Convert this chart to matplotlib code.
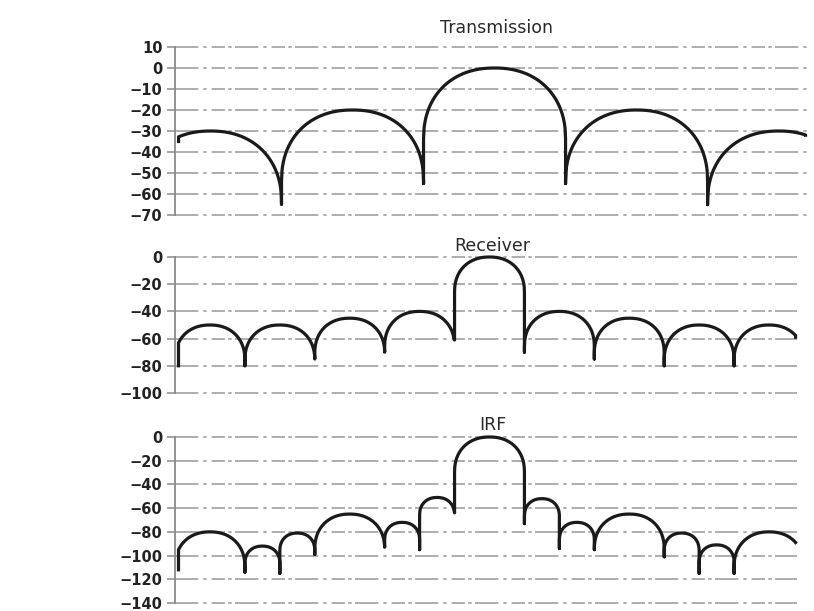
import numpy as np
import matplotlib.pyplot as plt

plt.rcParams['font.family'] = ['DejaVu Sans']

FIG_W, FIG_H = 814, 611

# Each panel is a chain of lobes: null positions, the level at each null
# (including the two curve ends) and the peak level of each lobe.
tx_nulls = [-4.45, -3.0, -1.0, 1.0, 3.0, 4.38]
tx_null_db = [-35, -65, -55, -55, -65, -32]
tx_peak_db = [-30, -20, 0, -20, -30]
tx_lobe_edges = [-5.0, -3.0, -1.0, 1.0, 3.0, 5.0]
tx_ticks = [10, 0, -10, -20, -30, -40, -50, -60, -70]

rx_nulls = [-4.45, -3.5, -2.5, -1.5, -0.5, 0.5, 1.5, 2.5, 3.5, 4.38]
rx_null_db = [-80, -80, -75, -70, -61, -70, -75, -80, -80, -59]
rx_peak_db = [-50, -50, -45, -40, 0, -40, -45, -50, -50]
rx_lobe_edges = [-4.5, -3.5, -2.5, -1.5, -0.5, 0.5, 1.5, 2.5, 3.5, 4.5]
rx_ticks = [0, -20, -40, -60, -80, -100]

irf_nulls = [-4.45, -3.5, -3.0, -2.5, -1.5, -1.0, -0.5, 0.5, 1.0, 1.5,
             2.5, 3.0, 3.5, 4.38]
irf_null_db = [-112, -114, -115, -99, -93, -95, -64, -73, -94, -95,
               -101, -115, -115, -89]
irf_peak_db = [-80, -92, -81, -65, -72, -51, 0, -52, -72, -65, -81, -91, -80]
irf_lobe_edges = [-4.5, -3.5, -3.0, -2.5, -1.5, -1.0, -0.5, 0.5, 1.0, 1.5,
                  2.5, 3.0, 3.5, 4.5]
irf_ticks = [0, -20, -40, -60, -80, -100, -120, -140]

XLIM = (-4.5, 4.4)
ROUND = 2.2  # superellipse exponent of the lobe arches


def lobe_curve(nulls, null_db, peak_db, edges, px_x, px_db):
    # every lobe is a round arch (in screen space) that falls straight
    # down to its null level at both sides
    xs, ys = [], []
    for i, pk in enumerate(peak_db):
        a, b = edges[i], edges[i + 1]
        x = np.linspace(nulls[i], nulls[i + 1], 300)
        c = (a + b) / 2
        h = (b - a) / 2
        t = np.clip(np.abs(x - c) / h, 0, 1)
        drop_px = h * px_x * (1 - (1 - t ** ROUND) ** (1 / ROUND))
        y = pk - drop_px / px_db
        floor = np.where(x < c, null_db[i], null_db[i + 1])
        y = np.maximum(y, floor)
        x = np.concatenate([[x[0]], x, [x[-1]]])
        y = np.concatenate([[null_db[i]], y, [null_db[i + 1]]])
        xs.append(x)
        ys.append(y)
    return np.concatenate(xs), np.concatenate(ys)


fig = plt.figure(figsize=(FIG_W / 100, FIG_H / 100), dpi=100)

panels = [
    ('Transmission', [0.215, 0.6481, 0.7764, 0.2750], tx_ticks,
     (tx_nulls, tx_null_db, tx_peak_db, tx_lobe_edges), 0.509, 1.083),
    ('Receiver', [0.215, 0.3568, 0.7641, 0.2226], rx_ticks,
     (rx_nulls, rx_null_db, rx_peak_db, rx_lobe_edges), 0.510, 1.044),
    ('IRF', [0.215, 0.0131, 0.7641, 0.2717], irf_ticks,
     (irf_nulls, irf_null_db, irf_peak_db, irf_lobe_edges), 0.511, 1.042),
]

for title, rect, ticks, lobes, tx, ty in panels:
    ax = fig.add_axes(rect)
    ax.set_xlim(*XLIM)
    ax.set_ylim(min(ticks), max(ticks))
    px_x = rect[2] * FIG_W / (XLIM[1] - XLIM[0])
    px_db = rect[3] * FIG_H / (max(ticks) - min(ticks))
    for tk in ticks:
        ax.axhline(tk, color='#a0a0a0', lw=1.2, clip_on=False, zorder=1,
                   linestyle=(0, (14, 3, 2, 3, 8, 2, 2, 2)))
    x, y = lobe_curve(*lobes, px_x, px_db)
    ax.plot(x, y, color='#1a1a1a', lw=2.3, zorder=3, clip_on=False,
            solid_joinstyle='round')
    for s in ['top', 'right', 'bottom']:
        ax.spines[s].set_visible(False)
    ax.spines['left'].set_color('#8a8a8a')
    ax.spines['left'].set_linewidth(1.3)
    ax.set_yticks(ticks)
    ax.set_xticks([])
    ax.tick_params(axis='y', length=6, width=1.1, color='#8a8a8a',
                   labelsize=10.5, pad=3, labelcolor='#222222')
    for lbl in ax.get_yticklabels():
        lbl.set_fontweight('bold')
    ax.text(tx, ty, title, transform=ax.transAxes, ha='center',
            va='baseline', fontsize=12.5, color='#2a2a2a')

fig.savefig('out.png', dpi=100)
